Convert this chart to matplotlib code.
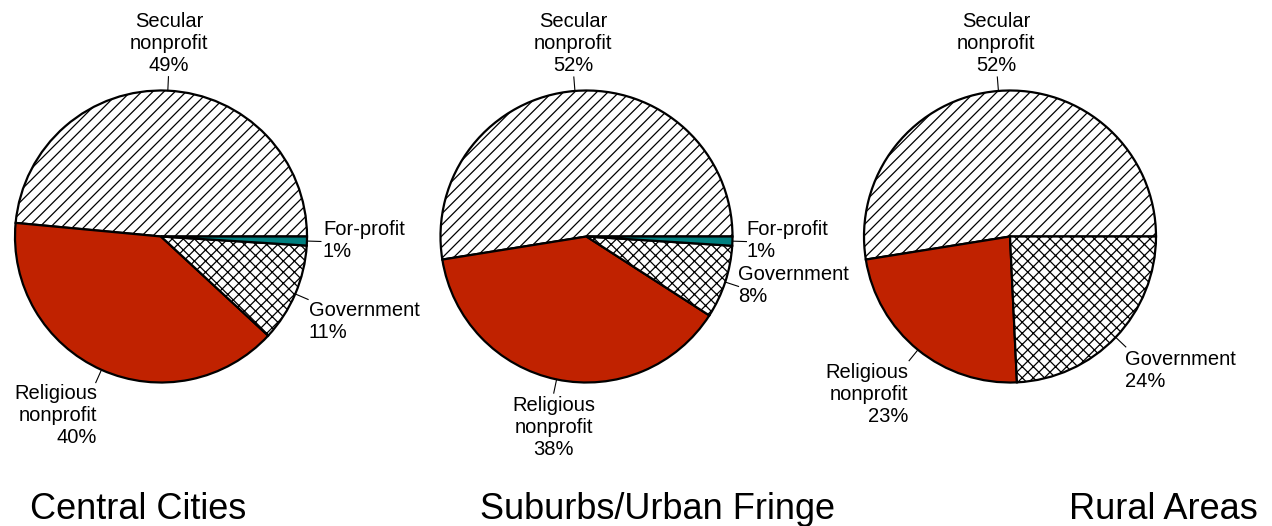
import numpy as np
import matplotlib.pyplot as plt

plt.rcParams['font.family'] = ['Liberation Sans', 'DejaVu Sans']
plt.rcParams['hatch.linewidth'] = 0.9

# shares of each provider type, by area
categories = ['Secular\nnonprofit', 'Religious\nnonprofit', 'Government', 'For-profit']
central = [49, 40, 11, 1]
suburbs = [52, 38, 8, 1]
rural = [52, 23, 24]
titles = ['Central Cities', 'Suburbs/Urban Fringe', 'Rural Areas']

colors = ['white', '#C02200', 'white', '#008080']
hatches = ['///', '', 'xxx', '']

# layout in pixels (y measured from the top); label y is the last line's baseline
W, H = 1272, 526
R = 146
centers = [(161, 236.5), (586.5, 236.5), (1010, 236.5)]
label_pos = [
    [(169, 71, 'center'), (97, 443, 'right'), (309, 338, 'left'), (323, 257, 'left')],
    [(573, 71, 'center'), (553.5, 455, 'center'), (738, 302, 'left'), (746, 257, 'left')],
    [(996, 71, 'center'), (908, 422, 'right'), (1125, 387, 'left')],
]
title_pos = [(30, 'left'), (657, 'center'), (1258, 'right')]

fig = plt.figure(figsize=(W / 100, H / 100), dpi=100)
ax = fig.add_axes([0, 0, 1, 1])

for vals, (cx, cy), labels, title, (tx, tha) in zip(
        [central, suburbs, rural], centers, label_pos, titles, title_pos):
    n = len(vals)
    cy = H - cy
    wedges, _ = ax.pie(vals, colors=colors[:n], hatch=hatches[:n],
                       startangle=0, counterclock=True, center=(cx, cy),
                       radius=R, frame=True,
                       wedgeprops=dict(edgecolor='black', linewidth=1.6))
    for w, cat, v, (lx, ly, ha) in zip(wedges, categories, vals, labels):
        # short radial leader from the middle of the wedge's arc
        mid = np.deg2rad((w.theta1 + w.theta2) / 2)
        c, s = np.cos(mid), np.sin(mid)
        ax.plot([cx + R * c, cx + (R + 14) * c], [cy + R * s, cy + (R + 14) * s],
                color='black', lw=0.8)
        ax.text(lx, H - ly, f'{cat}\n{v}%', ha=ha, multialignment=ha,
                va='baseline', fontsize=14.5, linespacing=1.2)
    ax.text(tx, H - 519, title, ha=tha, va='baseline', fontsize=26)

ax.set_xlim(0, W)
ax.set_ylim(0, H)
ax.axis('off')

fig.savefig('out.png', dpi=100)
